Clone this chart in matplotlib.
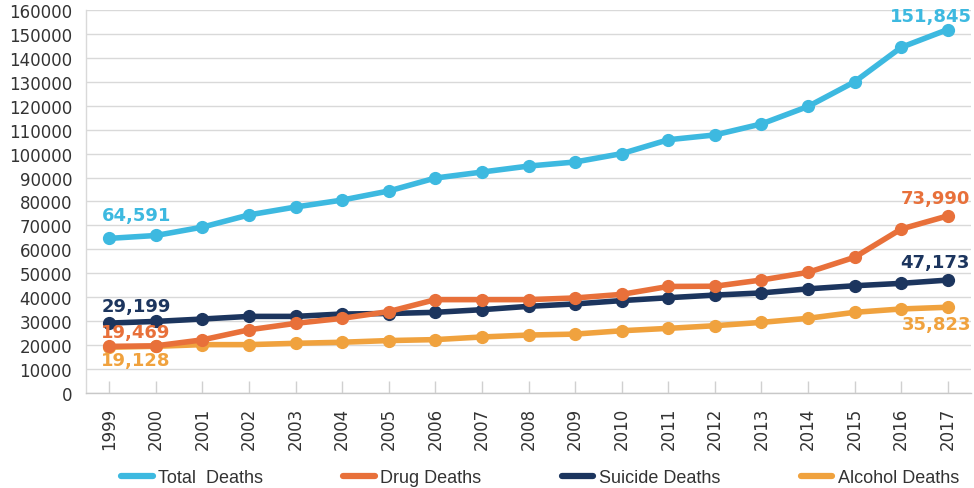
import matplotlib
matplotlib.use("Agg")
import matplotlib.pyplot as plt
from matplotlib.lines import Line2D

years = list(range(1999, 2018))
total_deaths = [64591, 65800, 69300, 74400, 77700, 80600, 84400, 89800, 92300, 94800,
                96500, 100000, 105800, 107800, 112400, 119700, 130000, 144400, 151845]
drug_deaths = [19469, 19700, 22200, 26400, 29100, 31200, 34000, 39000, 39000, 39000,
               39700, 41200, 44500, 44600, 47200, 50400, 56700, 68500, 73990]
suicide_deaths = [29199, 29900, 30900, 32000, 32000, 33000, 33200, 33700, 34800, 36200,
                  37200, 38600, 39800, 40900, 41800, 43500, 44800, 45800, 47173]
alcohol_deaths = [19128, 19500, 20200, 20200, 20750, 21200, 21900, 22300, 23400, 24200,
                  24600, 26000, 27000, 28100, 29500, 31200, 33700, 35100, 35823]
series_names = ["Total  Deaths", "Drug Deaths", "Suicide Deaths", "Alcohol Deaths"]
y_ticks = list(range(0, 160001, 10000))

C_TOTAL = "#3DB9E0"
C_DRUG = "#E8703A"
C_SUIC = "#1C355E"
C_ALC = "#F0A23E"
TXT = "#333333"

fig = plt.figure(figsize=(9.74, 4.89), dpi=100)
ax = fig.add_axes([0.0883, 0.1943, 0.9087, 0.7832])

lw = 4.0
ms = 8.5
ax.plot(years, total_deaths, color=C_TOTAL, lw=lw, marker="o", ms=ms, zorder=3)
ax.plot(years, suicide_deaths, color=C_SUIC, lw=lw, marker="o", ms=ms, zorder=4)
ax.plot(years, alcohol_deaths, color=C_ALC, lw=lw, marker="o", ms=ms, zorder=4)
ax.plot(years, drug_deaths, color=C_DRUG, lw=lw, marker="o", ms=ms, zorder=5)

ax.set_xlim(years[0] - 0.5, years[-1] + 0.5)
ax.set_ylim(0, 160000)
ax.set_yticks(y_ticks)
ax.set_yticklabels([str(v) for v in y_ticks])
ax.set_xticks(years)
ax.set_xticklabels([str(y) for y in years], rotation=90)

ax.grid(axis="y", color="#d9d9d9", lw=1.0, zorder=0)
ax.set_axisbelow(True)
for s in ["top", "right"]:
    ax.spines[s].set_visible(False)
ax.spines["left"].set_color("#d9d9d9")
ax.spines["bottom"].set_color("#c8c8c8")
ax.spines["left"].set_linewidth(1.0)
ax.spines["bottom"].set_linewidth(1.0)

ax.tick_params(axis="y", length=0, pad=10, labelsize=12, labelcolor=TXT)
ax.tick_params(axis="x", direction="in", length=9, width=1, color="#d0d0d0",
               pad=10, labelsize=12, labelcolor=TXT)
for lab in ax.get_xticklabels() + ax.get_yticklabels():
    lab.set_family("DejaVu Sans")

fmt = lambda v: f"{v:,}"
lab_kw = dict(textcoords="offset pixels", fontsize=13, fontweight="bold",
              va="center", family="DejaVu Sans", zorder=6)
# start labels
ax.annotate(fmt(total_deaths[0]), xy=(years[0], total_deaths[0]), xytext=(-7, 23),
            color=C_TOTAL, ha="left", **lab_kw)
ax.annotate(fmt(suicide_deaths[0]), xy=(years[0], suicide_deaths[0]), xytext=(-8, 17),
            color=C_SUIC, ha="left", **lab_kw)
ax.annotate(fmt(drug_deaths[0]), xy=(years[0], drug_deaths[0]), xytext=(-8, 14),
            color=C_DRUG, ha="left", **lab_kw)
ax.annotate(fmt(alcohol_deaths[0]), xy=(years[0], alcohol_deaths[0]), xytext=(-8, -13),
            color=C_ALC, ha="left", **lab_kw)
# end labels
ax.annotate(fmt(total_deaths[-1]), xy=(years[-1], total_deaths[-1]), xytext=(24, 13.5),
            color=C_TOTAL, ha="right", annotation_clip=False, **lab_kw)
ax.annotate(fmt(drug_deaths[-1]), xy=(years[-1], drug_deaths[-1]), xytext=(22, 18),
            color=C_DRUG, ha="right", annotation_clip=False, **lab_kw)
ax.annotate(fmt(suicide_deaths[-1]), xy=(years[-1], suicide_deaths[-1]), xytext=(22, 18),
            color=C_SUIC, ha="right", annotation_clip=False, **lab_kw)
ax.annotate(fmt(alcohol_deaths[-1]), xy=(years[-1], alcohol_deaths[-1]), xytext=(24, -17),
            color=C_ALC, ha="right", annotation_clip=False, **lab_kw)

handles = [Line2D([], [], color=c, lw=4.5, solid_capstyle="round")
           for c in [C_TOTAL, C_DRUG, C_SUIC, C_ALC]]
leg = fig.legend(handles, series_names, loc="center left", bbox_to_anchor=(121 / 974, 1 - 479 / 489),
                 ncol=4, frameon=False, handlelength=1.75, handletextpad=0.3,
                 columnspacing=4.45, borderpad=0, borderaxespad=0,
                 prop={"family": "Liberation Sans", "size": 13})
for t in leg.get_texts():
    t.set_color(TXT)

fig.savefig("out.png", dpi=100)
